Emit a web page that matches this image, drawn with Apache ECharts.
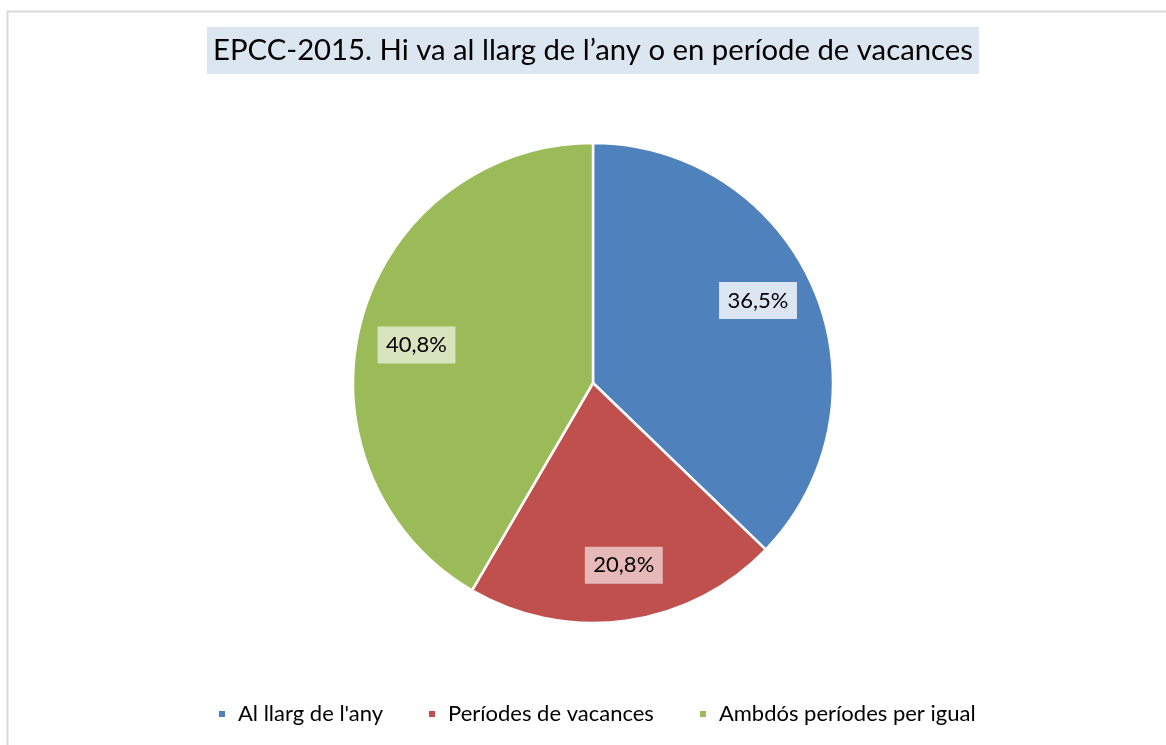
<!DOCTYPE html>
<html><head><meta charset="utf-8">
<script src="https://cdn.jsdelivr.net/npm/echarts@6/dist/echarts.min.js"></script>
<style>html,body{margin:0;padding:0;background:#fff}#c{width:1166px;height:745px}</style>
</head><body><div id="c"></div>
<script>
const titleText = "EPCC-2015. Hi va al llarg de l\u2019any o en període de vacances";
const categories = ["Al llarg de l'any", "Períodes de vacances", "Ambdós períodes per igual"];
const values = [36.5, 20.8, 40.8];
const labels = ["36,5%", "20,8%", "40,8%"];
const colors = ["#4f81bd", "#c0504d", "#9bbb59"];
const labelBg = ["#dce6f2", "#e6b9b8", "#d7e4bd"];
const labelShift = [[-8, -9], [5, -4], [5, 11]];
const FONT = "Lato";

const chart = echarts.init(document.getElementById('c'));
chart.setOption({
  animation: false,
  color: colors,
  graphic: [{
    type: 'rect', shape: {x: 7.5, y: 11.5, width: 1200, height: 800},
    style: {fill: 'none', stroke: '#d9d9d9', lineWidth: 2}, silent: true, z: -1
  }],
  title: {
    text: titleText, left: 207, top: 27,
    backgroundColor: '#dce6f1', padding: [9, 6, 9, 6],
    textStyle: {fontFamily: FONT, fontSize: 29.3, fontWeight: 'normal', color: '#000'}
  },
  legend: {
    bottom: 15, left: 212, icon: 'rect', itemWidth: 8, itemHeight: 8, itemGap: 44,
    textStyle: {fontFamily: FONT, fontSize: 22, color: '#000', padding: [0, 0, 0, 7]},
    data: categories
  },
  series: [{
    type: 'pie', center: [593, 383], radius: [0, 240], startAngle: 90, clockwise: true,
    silent: true, label: {show: false}, labelLine: {show: false},
    itemStyle: {borderColor: '#fff', borderWidth: 2.5},
    data: categories.map((c, i) => ({name: c, value: values[i]}))
  }, {
    type: 'pie', center: [593, 383], radius: [130, 240], startAngle: 90, clockwise: true,
    silent: true, legendHoverLink: false,
    itemStyle: {color: 'rgba(0,0,0,0)'},
    labelLine: {show: false},
    data: categories.map((c, i) => ({
      name: c + ' ', value: values[i],
      label: {
        show: true, position: 'inside', formatter: labels[i], offset: labelShift[i],
        backgroundColor: labelBg[i], padding: [8, 8.5, 7, 8.5],
        fontFamily: FONT, fontSize: 22, color: '#000'
      }
    }))
  }]
});
</script></body></html>
